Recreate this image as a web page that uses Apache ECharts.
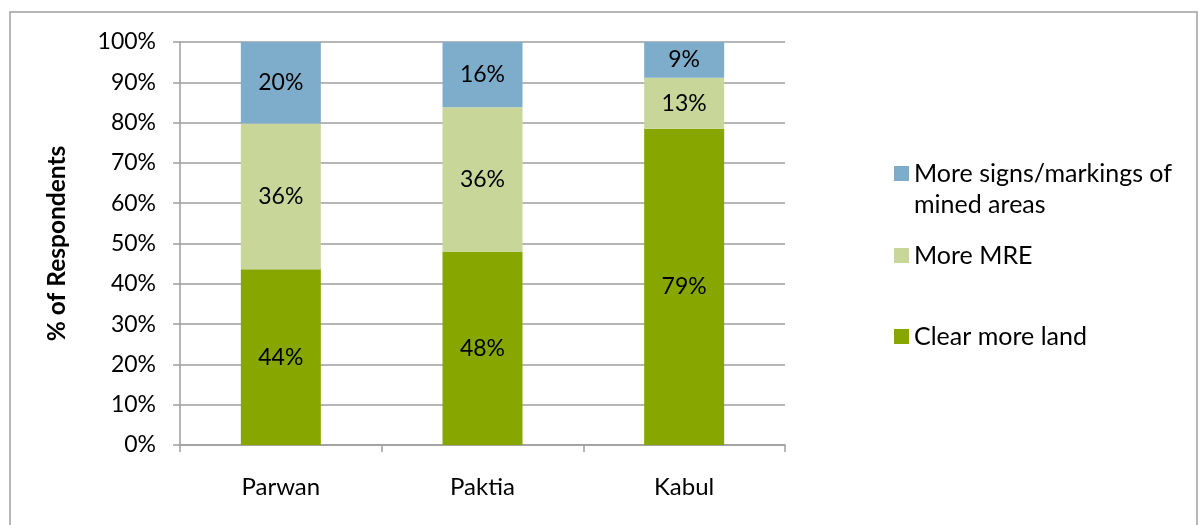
<!DOCTYPE html>
<html><head><meta charset="utf-8">
<script src="https://cdn.jsdelivr.net/npm/echarts@6/dist/echarts.min.js"></script>
<style>html,body{margin:0;padding:0;background:#fff}#c{width:1200px;height:525px}</style>
</head><body><div id="c"></div>
<script>
var categories = ['Parwan', 'Paktia', 'Kabul'];
var clearLand = [43.6, 47.9, 78.5];
var moreMRE = [36.2, 35.9, 12.6];
var moreSigns = [20.2, 16.2, 8.9];
var yTicks = [0, 10, 20, 30, 40, 50, 60, 70, 80, 90, 100];

var FONT = 'Lato';
var FS = 23;
var FS_TXT = 25;
var chart = echarts.init(document.getElementById('c'), null, {renderer: 'canvas'});
function lab() {
  return {show: true, position: 'inside', color: '#000', fontFamily: FONT, fontSize: FS,
    formatter: function (p) { return Math.round(p.value) + '%'; }};
}
var series = [
  {name: 'Clear more land', data: clearLand, color: '#87A600'},
  {name: 'More MRE', data: moreMRE, color: '#C8D69A'},
  {name: 'More signs/markings of mined areas', data: moreSigns, color: '#7EADCB'}
].map(function (s) {
  return {name: s.name, type: 'bar', stack: 'total', data: s.data, barWidth: 80,
    itemStyle: {color: s.color}, label: lab(), emphasis: {disabled: true}};
});
function legendItem(name, top, extra) {
  var l = {orient: 'vertical', left: 894, top: top, padding: 0, data: [name],
    icon: 'rect', itemWidth: 15, itemHeight: 15, selectedMode: false,
    textStyle: {fontFamily: FONT, fontSize: FS_TXT, color: '#000', lineHeight: 31}};
  if (extra) { for (var k in extra) l[k] = extra[k]; }
  return l;
}
chart.setOption({
  animation: false,
  backgroundColor: '#fff',
  grid: {left: 180, right: 415, top: 42, bottom: 80},
  xAxis: {type: 'category', data: categories,
    axisLine: {lineStyle: {color: '#9E9E9E', width: 1.5}},
    axisTick: {show: true, length: 7, lineStyle: {color: '#9E9E9E', width: 1.5}},
    axisLabel: {color: '#000', fontFamily: FONT, fontSize: 24, margin: 30}},
  yAxis: {type: 'value', min: 0, max: 100, interval: 10,
    name: '% of Respondents', nameLocation: 'middle', nameGap: 110,
    nameTextStyle: {color: '#000', fontFamily: FONT, fontSize: 24.5, fontWeight: 'bold'},
    axisLine: {show: true, lineStyle: {color: '#9E9E9E', width: 1.5}},
    axisTick: {show: true, length: 7, lineStyle: {color: '#9E9E9E', width: 1.5}},
    splitLine: {lineStyle: {color: '#9E9E9E', width: 1.5}},
    axisLabel: {color: '#000', fontFamily: FONT, fontSize: FS, margin: 24,
      customValues: yTicks, formatter: function (v) { return v + '%'; }}},
  legend: [
    legendItem('More signs/markings of mined areas', 127, {
      formatter: function (n) { return '\n' + n.replace(' mined', '\nmined'); }}),
    legendItem('More MRE', 240),
    legendItem('Clear more land', 321)
  ],
  graphic: [{type: 'rect', shape: {x: 10, y: 12, width: 1187, height: 530},
    style: {fill: 'none', stroke: '#A0A0A0', lineWidth: 1.5}, silent: true}],
  series: series
});
</script></body></html>
